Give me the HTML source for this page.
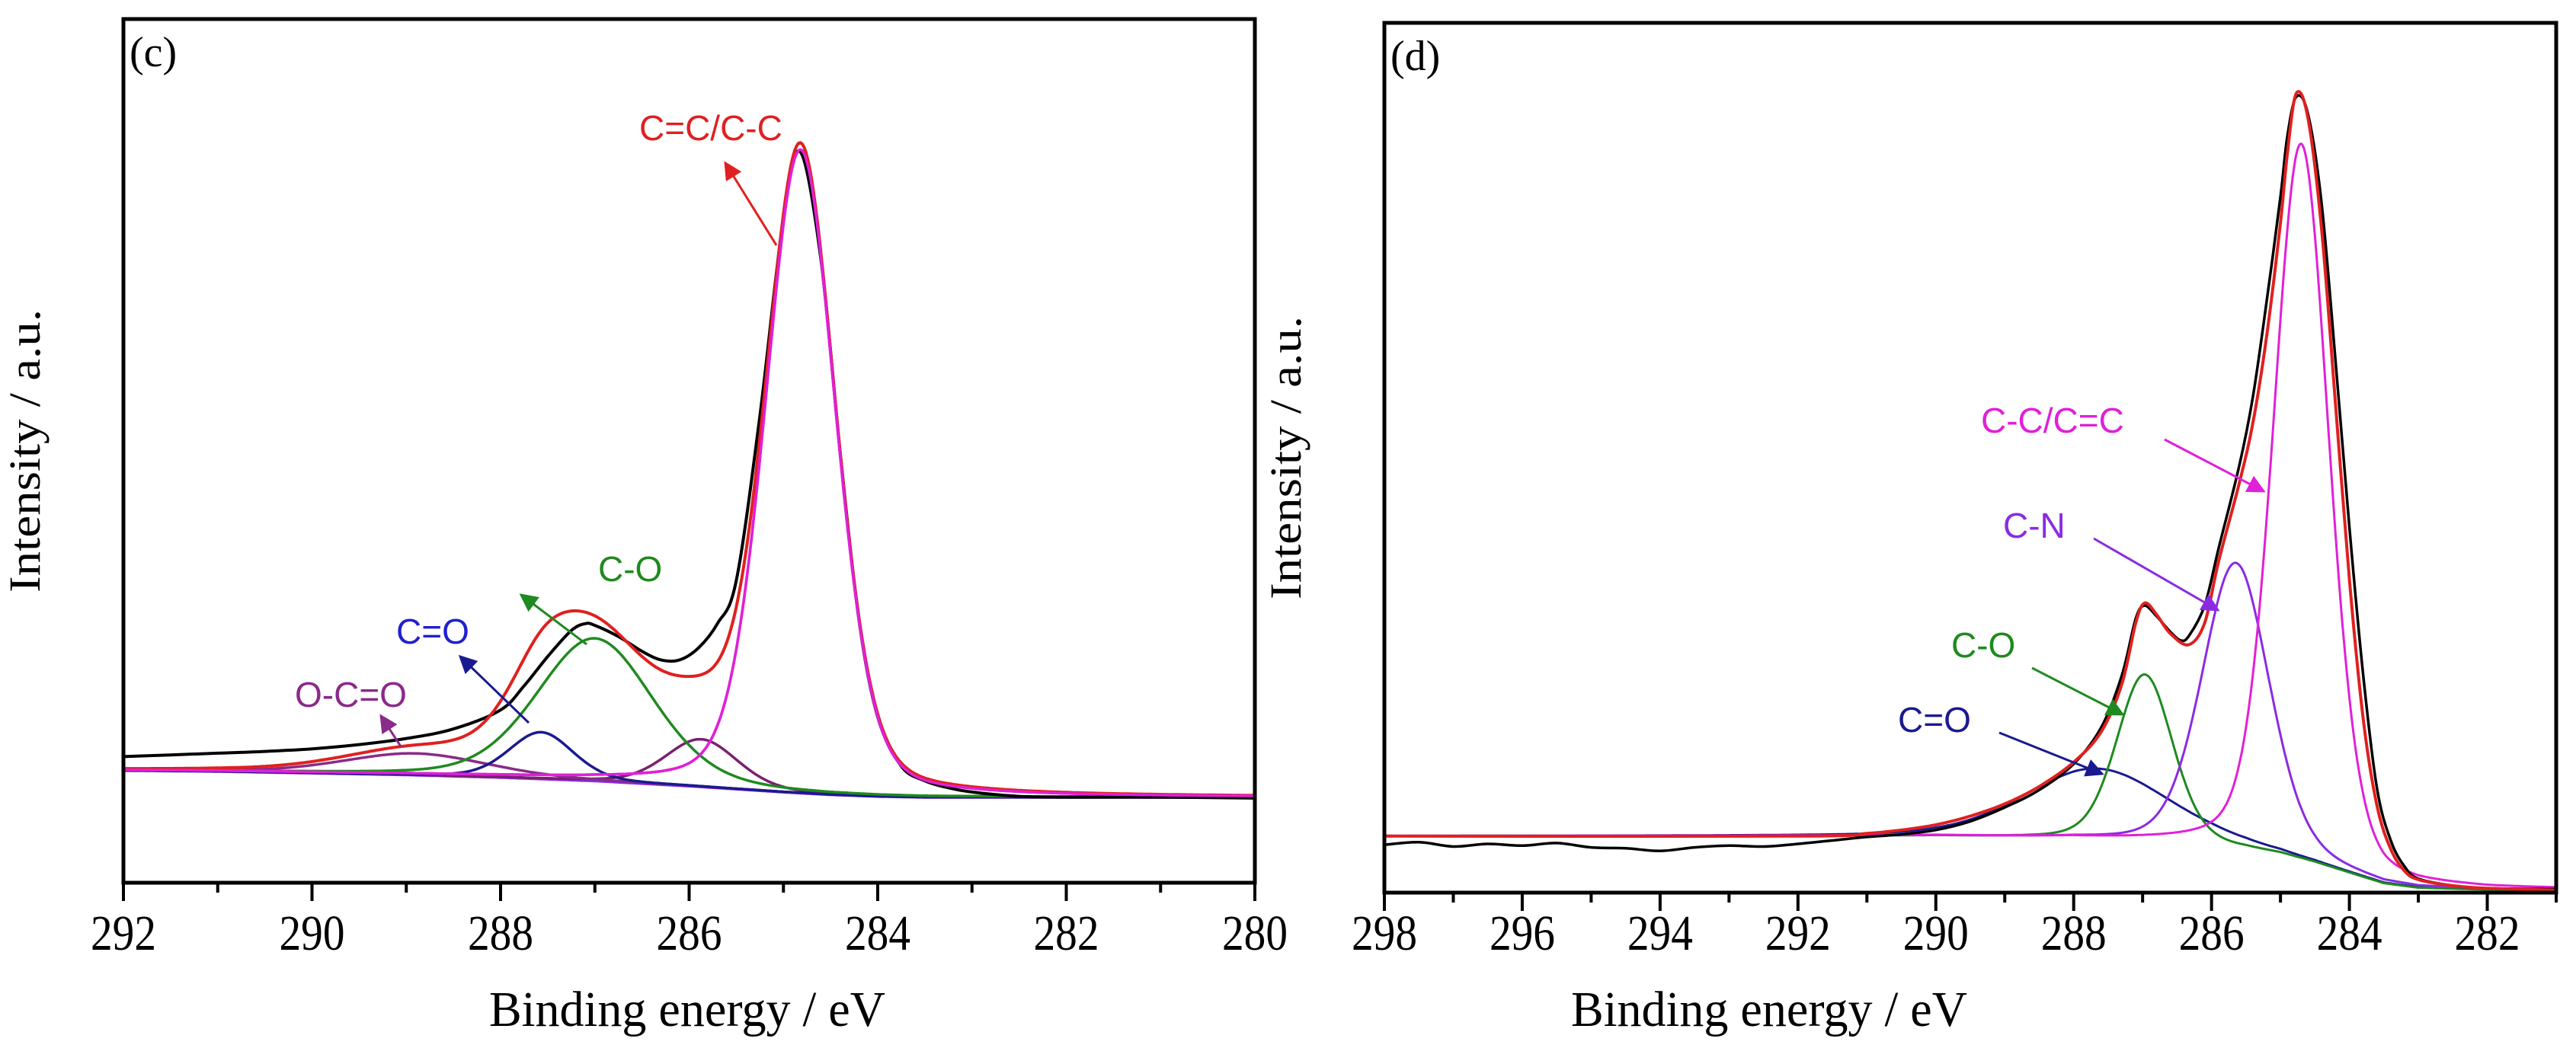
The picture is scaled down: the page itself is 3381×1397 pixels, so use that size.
<!DOCTYPE html>
<html><head><meta charset="utf-8"><style>
html,body{margin:0;padding:0;background:#fff;}
svg{display:block;}
</style></head><body>
<svg id="fig" width="3381" height="1397" viewBox="0 0 3381 1397" xmlns="http://www.w3.org/2000/svg">
<defs>
<marker id="ah-red" markerWidth="8" markerHeight="8" refX="7" refY="4" orient="auto" markerUnits="strokeWidth"><path d="M0,0 L8,4 L0,8 z" fill="#e02020"/></marker>
<marker id="ah-green" markerWidth="8" markerHeight="8" refX="7" refY="4" orient="auto" markerUnits="strokeWidth"><path d="M0,0 L8,4 L0,8 z" fill="#1f8a1f"/></marker>
<marker id="ah-navy" markerWidth="8" markerHeight="8" refX="7" refY="4" orient="auto" markerUnits="strokeWidth"><path d="M0,0 L8,4 L0,8 z" fill="#1a1a90"/></marker>
<marker id="ah-purple" markerWidth="8" markerHeight="8" refX="7" refY="4" orient="auto" markerUnits="strokeWidth"><path d="M0,0 L8,4 L0,8 z" fill="#8a2a8a"/></marker>
<marker id="ah-mag" markerWidth="8" markerHeight="8" refX="7" refY="4" orient="auto" markerUnits="strokeWidth"><path d="M0,0 L8,4 L0,8 z" fill="#e020d8"/></marker>
<marker id="ah-violet" markerWidth="8" markerHeight="8" refX="7" refY="4" orient="auto" markerUnits="strokeWidth"><path d="M0,0 L8,4 L0,8 z" fill="#8a2be2"/></marker>
</defs>
<g id="panelC"></g>
<g id="panelD"></g>
</svg>
<script>
// ---------- Panel (c) data ----------
const cTicks = [292, 290, 288, 286, 284, 282, 280];
const cBgE = [292, 291, 290, 289, 288, 287, 286, 285, 284.5, 284, 283.5, 283, 280];
const cBgI = [130, 129, 127, 125, 122, 118, 112, 105, 102, 100, 99, 99, 99];
const cCenters = [284.82, 287.0, 287.57, 288.9, 285.87];
const cHeights = [745, 165, 54, 25, 55];
const cWidths = [0.88, 1.45, 0.8, 1.8, 0.9];
const cColors = ['#e020d8', '#1f8a1f', '#1a1a90', '#8a2a8a', '#7a2070'];
const cNames = ['c-c-peak', 'c-o-peak', 'c-double-o-peak', 'o-c-double-o-peak', 'minor-peak-285'];
const cExpE = [292, 291.5, 291, 290.5, 290, 289.5, 289, 288.5, 288, 287.75, 287.5, 287.25, 287.1, 287.0, 286.75, 286.5, 286.3, 286.1, 285.9, 285.7, 285.5, 285.25, 285.0, 284.82, 284.6, 284.4, 284.2, 284.0, 283.75, 283.5, 283.25, 283, 282.5, 282, 281, 280];
const cExpI = [146, 148, 150, 152, 155, 160, 167, 178, 200, 228, 262, 292, 300, 298, 285, 268, 258, 258, 272, 300, 350, 540, 770, 846, 720, 500, 305, 192, 135, 118, 110, 105, 100, 99, 99, 98];

// ---------- Panel (d) data ----------
const dTicks = [298, 296, 294, 292, 290, 288, 286, 284, 282];
const dBgE = [298, 290, 288, 287, 286, 285.5, 285, 284.5, 284, 283.5, 283, 282, 281];
const dBgI = [65, 65, 62, 58, 54, 50, 44, 34, 22, 10, 5, 3, 3];
const dCenters = [284.7, 285.65, 286.97, 287.65];
const dHeights = [823, 328, 193, 82];
const dWidths = [0.95, 1.15, 0.96, 2.5];
const dColors = ['#e020d8', '#8a2be2', '#1f8a1f', '#1a1a90'];
const dNames = ['c-c-peak', 'c-n-peak', 'c-o-peak', 'c-double-o-peak'];
const dFitE = [298, 292, 291, 290.5, 290, 289.5, 289, 288.5, 288, 287.6, 287.3, 287.1, 286.97, 286.8, 286.6, 286.33, 286.1, 285.9, 285.6, 285.4, 285.2, 285.0, 284.9, 284.77, 284.6, 284.4, 284.2, 284.0, 283.8, 283.6, 283.4, 283.2, 283, 282.5, 282, 281];
const dFitI = [65, 65, 68, 72, 78, 88, 102, 122, 150, 185, 240, 310, 333, 320, 298, 285, 310, 380, 470, 540, 640, 770, 850, 919, 890, 760, 560, 360, 200, 100, 50, 25, 15, 8, 5, 3];
const dExpE = [298, 297.5, 297, 296.5, 296, 295.5, 295, 294.5, 294, 293.5, 293, 292.5, 292, 291.5, 291, 290.5, 290, 289.5, 289, 288.5, 288, 287.6, 287.3, 287.1, 286.97, 286.8, 286.6, 286.45, 286.33, 286.1, 285.9, 285.6, 285.4, 285.2, 285.0, 284.9, 284.77, 284.6, 284.4, 284.2, 284.0, 283.8, 283.6, 283.4, 283.2, 283, 282.5, 282, 281];
const dExpI = [55, 58, 53, 56, 54, 57, 52, 51, 48, 52, 54, 53, 56, 60, 64, 67, 72, 82, 98, 118, 148, 190, 250, 315, 330, 318, 300, 290, 295, 330, 395, 490, 570, 680, 800, 870, 915, 895, 790, 610, 420, 250, 120, 60, 30, 16, 8, 5, 4];

const NS = 'http://www.w3.org/2000/svg';
function mk(tag, attrs, parent) {
  const e = document.createElementNS(NS, tag);
  for (const k in attrs) e.setAttribute(k, attrs[k]);
  parent.appendChild(e);
  return e;
}
function interp(xs, ys, x) {
  if (x >= xs[0]) return ys[0];
  for (let i = 1; i < xs.length; i++) {
    if (x >= xs[i]) { const t = (xs[i - 1] - x) / (xs[i - 1] - xs[i]); return ys[i - 1] + t * (ys[i] - ys[i - 1]); }
  }
  return ys[ys.length - 1];
}
function pv(E, c, h, w) {
  const d = (E - c) / w;
  return h * (0.75 * Math.exp(-4 * Math.LN2 * d * d) + 0.25 / (1 + 4 * d * d));
}
function smoothPath(pts) {
  let d = 'M' + pts[0][0].toFixed(1) + ',' + pts[0][1].toFixed(1);
  for (let i = 0; i < pts.length - 1; i++) {
    const p0 = pts[Math.max(0, i - 1)], p1 = pts[i], p2 = pts[i + 1], p3 = pts[Math.min(pts.length - 1, i + 2)];
    const c1 = [p1[0] + (p2[0] - p0[0]) / 6, p1[1] + (p2[1] - p0[1]) / 6];
    const c2 = [p2[0] - (p3[0] - p1[0]) / 6, p2[1] - (p3[1] - p1[1]) / 6];
    d += ' C' + c1[0].toFixed(1) + ',' + c1[1].toFixed(1) + ' ' + c2[0].toFixed(1) + ',' + c2[1].toFixed(1) + ' ' + p2[0].toFixed(1) + ',' + p2[1].toFixed(1);
  }
  return d;
}
function linePath(pts) { return 'M' + pts.map(p => p[0].toFixed(1) + ',' + p[1].toFixed(1)).join(' L'); }

function drawAxes(g, L, R, T, B, eMax, eMin, ticks, xs, labelCx, panelLetter) {
  for (let e = eMax; e >= eMin - 1e-6; e -= 1) {
    const x = xs(e);
    const major = ticks.some(t => Math.abs(t - e) < 1e-6);
    const t = mk('line', {x1: x, y1: B, x2: x, y2: B + (major ? 24 : 13), stroke: '#000', 'stroke-width': 4}, g);
    
    
  }
  ticks.forEach(v => {
    const tx = mk('text', {x: xs(v), y: 1247, 'text-anchor': 'middle', 'font-family': '"Liberation Serif", serif', 'font-size': 66, textLength: 86, lengthAdjust: 'spacingAndGlyphs', fill: '#000'}, g);
    tx.textContent = String(v);
    
    
  });
  const fr = mk('rect', {x: L, y: T, width: R - L, height: B - T, fill: 'none', stroke: '#000', 'stroke-width': 5}, g);
  
  
  const xl = mk('text', {x: labelCx, y: 1347, 'text-anchor': 'middle', 'font-family': '"Liberation Serif", serif', 'font-size': 66, textLength: 520, lengthAdjust: 'spacingAndGlyphs', fill: '#000'}, g);
  xl.textContent = 'Binding energy / eV';
  
  
  const yx = L - 110, yc = (T + B) / 2;
  const yl = mk('text', {x: yx, y: yc, 'text-anchor': 'middle', 'font-family': '"Liberation Serif", serif', 'font-size': 58, textLength: 372, lengthAdjust: 'spacingAndGlyphs', fill: '#000', transform: 'rotate(-90 ' + yx + ' ' + yc + ')'}, g);
  yl.textContent = 'Intensity / a.u.';
  
  
  const pl = mk('text', {x: L + 8, y: T + 62, 'font-family': '"Liberation Serif", serif', 'font-size': 56, fill: '#000'}, g);
  pl.textContent = panelLetter;
  
  
}
function label(g, txt, x, y, color, name) {
  const t = mk('text', {x: x, y: y, 'font-family': '"Liberation Sans", Arial, sans-serif', 'font-size': 46, fill: color}, g);
  t.textContent = txt;
  
  
}
function arrow(g, x1, y1, x2, y2, color, mid, name) {
  const a = mk('line', {x1: x1, y1: y1, x2: x2, y2: y2, stroke: color, 'stroke-width': 3, 'marker-end': 'url(#' + mid + ')'}, g);
  
  
}

// ---------- draw panel c ----------
(function () {
  const g = document.getElementById('panelC');
  const L = 162, R = 1647, T = 25, B = 1159;
  const xs = e => L + (292 - e) * (R - L) / 12;
  const ys = i => B - i * 1.134;
  const grid = [];
  for (let e = 292; e >= 280 - 1e-9; e -= 0.02) grid.push(e);
  const bg1 = mk('path', {d: linePath(grid.map(e => [xs(e), ys(interp(cBgE, cBgI, e))])), fill: 'none', stroke: '#8a2be2', 'stroke-width': 4}, g);
  
  
  for (let k = cCenters.length - 1; k >= 0; k--) {
    const p = mk('path', {d: linePath(grid.map(e => [xs(e), ys(interp(cBgE, cBgI, e) + pv(e, cCenters[k], cHeights[k], cWidths[k]))])), fill: 'none', stroke: cColors[k], 'stroke-width': 3.5}, g);
    
    
  }
  const ex = mk('path', {d: smoothPath(cExpE.map((e, i) => [xs(e), ys(cExpI[i])])), fill: 'none', stroke: '#000', 'stroke-width': 4}, g);
  
  
  const env = mk('path', {d: linePath(grid.map(e => { let s = interp(cBgE, cBgI, e); for (let k = 0; k < cCenters.length; k++) s += pv(e, cCenters[k], cHeights[k], cWidths[k]); return [xs(e), ys(s)]; })), fill: 'none', stroke: '#e02020', 'stroke-width': 4}, g);
  
  
  const mp = mk('path', {d: linePath(grid.map(e => [xs(e), ys(interp(cBgE, cBgI, e) + pv(e, cCenters[0], cHeights[0], cWidths[0]))])), fill: 'none', stroke: '#e020d8', 'stroke-width': 3.5}, g);
  
  
  drawAxes(g, L, R, T, B, 292, 280, cTicks, xs, 902, '(c)');
  label(g, 'C=C/C-C', 839, 184, '#e02020', 'label-c-c');
  arrow(g, 1019, 322, 952, 214, '#e02020', 'ah-red', 'arrow-c-c');
  label(g, 'C-O', 785, 763, '#1f8a1f', 'label-c-o');
  arrow(g, 770, 846, 684, 781, '#1f8a1f', 'ah-green', 'arrow-c-o');
  label(g, 'C=O', 520, 845, '#2020d0', 'label-c-double-o');
  arrow(g, 694, 949, 604, 862, '#1a1a90', 'ah-navy', 'arrow-c-double-o');
  label(g, 'O-C=O', 387, 928, '#8a2a8a', 'label-o-c-double-o');
  arrow(g, 526, 980, 500, 940, '#8a2a8a', 'ah-purple', 'arrow-o-c-double-o');
})();

// ---------- draw panel d ----------
(function () {
  const g = document.getElementById('panelD');
  const L = 1817, R = 3355, T = 30, B = 1172;
  const xs = e => L + (298 - e) * (R - L) / 17;
  const ys = i => B - i * 1.142;
  const grid = [];
  for (let e = 298; e >= 281 - 1e-9; e -= 0.02) grid.push(e);
  for (let k = dCenters.length - 1; k >= 0; k--) {
    const p = mk('path', {d: linePath(grid.map(e => [xs(e), ys(interp(dBgE, dBgI, e) + pv(e, dCenters[k], dHeights[k], dWidths[k]))])), fill: 'none', stroke: dColors[k], 'stroke-width': 3}, g);
    
    
  }
  const ex = mk('path', {d: smoothPath(dExpE.map((e, i) => [xs(e), ys(dExpI[i])])), fill: 'none', stroke: '#000', 'stroke-width': 3.5}, g);
  
  
  const fit = mk('path', {d: smoothPath(dFitE.map((e, i) => [xs(e), ys(dFitI[i])])), fill: 'none', stroke: '#e02020', 'stroke-width': 4}, g);
  
  
  drawAxes(g, L, R, T, B, 298, 281, dTicks, xs, 2322, '(d)');
  label(g, 'C-C/C=C', 2600, 568, '#e020d8', 'label-c-c');
  arrow(g, 2841, 577, 2971, 645, '#e020d8', 'ah-mag', 'arrow-c-c');
  label(g, 'C-N', 2629, 706, '#8a2be2', 'label-c-n');
  arrow(g, 2748, 707, 2911, 801, '#8a2be2', 'ah-violet', 'arrow-c-n');
  label(g, 'C-O', 2561, 863, '#1f8a1f', 'label-c-o');
  arrow(g, 2667, 877, 2786, 938, '#1f8a1f', 'ah-green', 'arrow-c-o');
  label(g, 'C=O', 2491, 961, '#1a1a90', 'label-c-double-o');
  arrow(g, 2624, 962, 2759, 1016, '#1a1a90', 'ah-navy', 'arrow-c-double-o');
})();
</script>
</body></html>
